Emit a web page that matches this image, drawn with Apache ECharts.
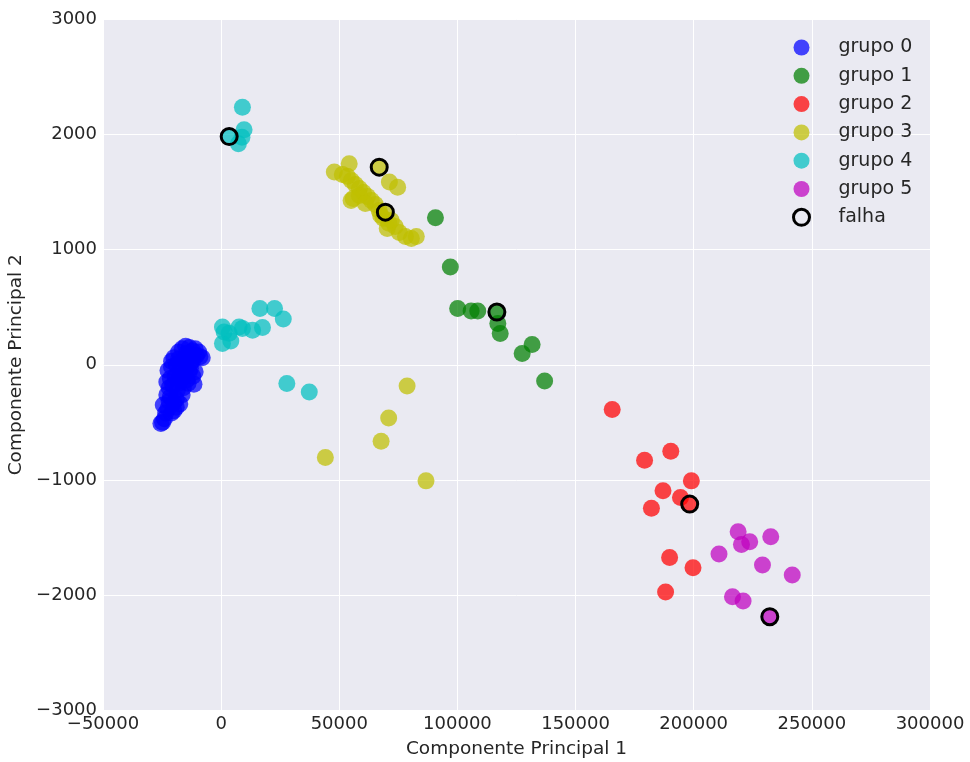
<!DOCTYPE html>
<html>
<head>
<meta charset="utf-8">
<script src="https://cdn.jsdelivr.net/npm/echarts@6/dist/echarts.min.js"></script>
<style>
  html, body { margin: 0; padding: 0; background: #ffffff; }
  #chart { width: 970px; height: 762px; }
</style>
</head>
<body>
<div id="chart"></div>
<script>
// PCA projection: [Componente Principal 1, Componente Principal 2]
const grupo0 = [
  [-25500,-510],[-24800,-500],[-24000,-470],[-23500,-420],[-24500,-350],[-22500,-380],
  [-21000,-420],[-20000,-400],[-17500,-340],[-19000,-300],[-21500,-280],[-23000,-260],
  [-22000,-200],[-20500,-180],[-18500,-220],[-16000,-200],[-14000,-160],[-11500,-170],
  [-12000,-100],[-13500,-60],[-15500,-80],[-17500,-100],[-19500,-100],[-21500,-120],
  [-22500,-50],[-21000,-20],[-19000,0],[-17000,-20],[-15000,-10],[-13000,10],
  [-11000,-60],[-21000,30],[-20000,60],[-18000,50],[-16000,40],[-14000,60],
  [-12000,40],[-10500,80],[-8000,60],[-9500,110],[-12000,120],[-13500,150],
  [-15000,160],[-16500,140],[-18000,110],[-14500,100],[-22000,-320],[-20000,-330],
  [-19000,-370],[-16500,-260],[-23000,-150],[-18000,-160],[-16500,-120],[-14500,-130],
  [-11000,140],[-9000,70],[-13000,-30]
];
const grupo1 = [
  [90700,1278],[97000,849],[100100,488],[105800,467],[108600,467],[116700,458],
  [117100,358],[118100,271],[131600,175],[127400,97],[136900,-141]
];
const grupo2 = [
  [165500,-389],[190300,-751],[179200,-829],[199000,-1009],[187000,-1095],
  [194400,-1153],[198300,-1211],[182100,-1246],[189800,-1674],[199700,-1764],
  [188100,-1975]
];
const grupo3 = [
  [54200,1746],[47900,1674],[66900,1717],[71200,1587],[74700,1543],[55000,1428],
  [69500,1326],[51300,1654],[53400,1637],[55100,1602],[56800,1567],[58500,1532],
  [60200,1497],[61900,1463],[63600,1428],[65300,1393],[55900,1445],[58500,1471],
  [61000,1402],[66900,1341],[68600,1272],[72000,1254],[70300,1185],[73700,1202],
  [75400,1150],[78000,1115],[80500,1098],[82600,1115],[67500,1300],[71000,1230],
  [78700,-184],[70900,-462],[67700,-664],[44100,-806],[86700,-1009]
];
const grupo4 = [
  [9000,2238],[9700,2042],[8800,1977],[7300,1920],[3400,1983],
  [16400,488],[22600,488],[26300,398],[550,328],[1270,285],[3400,273],
  [7600,328],[9000,316],[13300,300],[17500,323],[550,184],[4100,207],
  [27800,-163],[37300,-236]
];
const grupo5 = [
  [218800,-1451],[232600,-1495],[223700,-1538],[220200,-1561],[210700,-1645],
  [229100,-1740],[241700,-1827],[216400,-2016],[220900,-2053],[232200,-2189]
];
const falha = [
  [3400,1983],[66900,1717],[69500,1326],[116700,458],[198300,-1211],[232200,-2189]
];

const groupNames = ['grupo 0','grupo 1','grupo 2','grupo 3','grupo 4','grupo 5'];
const groupData = [grupo0, grupo1, grupo2, grupo3, grupo4, grupo5];
const groupColors = ['#0000ff','#008000','#ff0000','#bfbf00','#00bfbf','#bf00bf'];

const xTicks = { min: -50000, max: 300000, step: 50000 };
const yTicks = { min: -3000, max: 3000, step: 1000 };

const FONT = 'DejaVu Sans';
const TEXT = '#262626';
const minus = v => String(v).replace('-', '\u2212');

const series = groupData.map((d, i) => ({
  name: groupNames[i],
  type: 'scatter',
  data: d,
  symbol: 'circle',
  symbolSize: 17,
  itemStyle: { color: groupColors[i], opacity: 0.72 },
  emphasis: { disabled: true }
}));
series.push({
  name: 'falha',
  type: 'scatter',
  data: falha,
  symbol: 'circle',
  symbolSize: 16,
  itemStyle: { color: 'rgba(0,0,0,0)', borderColor: '#000000', borderWidth: 3, opacity: 1 },
  emphasis: { disabled: true }
});

const chart = echarts.init(document.getElementById('chart'), null, { renderer: 'canvas' });
chart.setOption({
  animation: false,
  backgroundColor: '#ffffff',
  grid: {
    left: 103, right: 40, top: 19.5, bottom: 52,
    outerBoundsMode: 'none', containLabel: false,
    show: true, backgroundColor: '#EAEAF2', borderWidth: 0
  },
  legend: {
    left: 787, top: 33, orient: 'vertical', padding: 5,
    itemWidth: 16, itemHeight: 16, itemGap: 9.3,
    icon: 'circle',
    textStyle: { fontFamily: FONT, fontSize: 19, color: TEXT, padding: [0, 0, 0, 24] },
    data: groupNames.map((n, i) => ({ name: n, itemStyle: { color: groupColors[i], opacity: 0.72 } }))
      .concat([{ name: 'falha', itemStyle: { color: 'rgba(0,0,0,0)', borderColor: '#000', borderWidth: 3 } }])
  },
  xAxis: {
    type: 'value', min: xTicks.min, max: xTicks.max, interval: xTicks.step,
    name: 'Componente Principal 1', nameLocation: 'middle', nameGap: 30,
    nameTextStyle: { fontFamily: FONT, fontSize: 18.5, color: TEXT },
    axisLine: { show: false }, axisTick: { show: false },
    axisLabel: { fontFamily: FONT, fontSize: 18, color: TEXT, margin: 5, formatter: minus },
    splitLine: { show: true, lineStyle: { color: '#ffffff', width: 1 } }
  },
  yAxis: {
    type: 'value', min: yTicks.min, max: yTicks.max, interval: yTicks.step,
    name: 'Componente Principal 2', nameLocation: 'middle', nameGap: 74,
    nameTextStyle: { fontFamily: FONT, fontSize: 18.5, color: TEXT },
    axisLine: { show: false }, axisTick: { show: false },
    axisLabel: { fontFamily: FONT, fontSize: 18, color: TEXT, margin: 6, formatter: minus },
    splitLine: { show: true, lineStyle: { color: '#ffffff', width: 1 } }
  },
  series: series
});
</script>
</body>
</html>
